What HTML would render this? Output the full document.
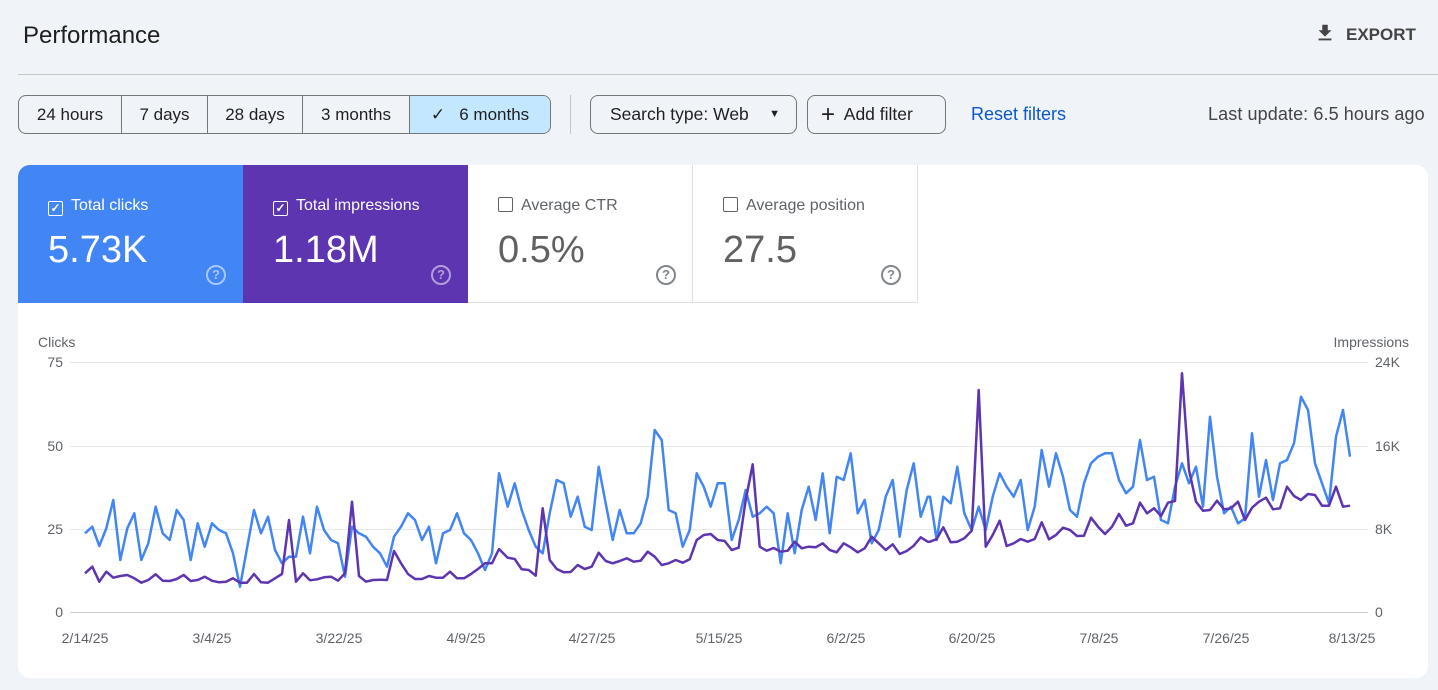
<!DOCTYPE html>
<html><head><meta charset="utf-8"><style>
*{box-sizing:border-box}
body{margin:0;width:1438px;height:690px;background:#f0f4f9;font-family:"Liberation Sans",sans-serif;position:relative;overflow:hidden;color:#1f1f1f}
.a{position:absolute}
.seg{position:absolute;top:95px;height:39px;border:1px solid #747775;border-radius:8px;display:flex;overflow:hidden;left:18px}
.seg div{border-right:1px solid #747775;font-size:17px;line-height:37px;text-align:center;color:#1f1f1f}
.btn{position:absolute;top:95px;height:39px;border:1px solid #747775;border-radius:8px;font-size:17.5px;line-height:37px;color:#1f1f1f}
.tile{position:absolute;top:165px;height:138px;width:225px}
.tile .l{position:absolute;left:30px;top:32px;font-size:16px}
.tile .v{position:absolute;left:30px;top:64px;font-size:38px}
.cb{display:inline-block;width:15px;height:15px;border:1.5px solid;border-radius:2px;vertical-align:-2px;margin-right:8px;position:relative;font-size:12px;line-height:12px;text-align:center;font-weight:bold}
.q{position:absolute;left:188px;top:100px;width:20px;height:20px;border:2px solid;border-radius:50%;font-size:13px;text-align:center;line-height:16px;font-weight:bold}
</style></head><body>
<div class="a" style="left:23px;top:22px;font-size:24px;color:#1f1f1f">Performance</div>
<div class="a" style="left:1314px;top:22px;font-size:17px;font-weight:bold;color:#444">
<svg width="22" height="22" viewBox="0 0 24 24" style="vertical-align:-4px;margin-right:10px"><path d="M5 20h14v-2H5zM19 9h-4V3H9v6H5l7 7z" fill="#444"/></svg>EXPORT</div>
<div class="a" style="left:18px;top:74px;width:1420px;height:1px;background:#c4c7c5"></div>
<div class="seg">
<div style="width:103px">24 hours</div><div style="width:86px">7 days</div><div style="width:95px">28 days</div><div style="width:107px">3 months</div>
<div style="width:140px;background:#c2e7ff;border-right:none">✓&nbsp;&nbsp; 6 months</div></div>
<div class="a" style="left:570px;top:95px;width:1px;height:39px;background:#c4c7c5"></div>
<div class="btn" style="left:590px;width:207px;padding-left:19px">Search type: Web <span style="position:absolute;right:16px;top:0;font-size:11px">▼</span></div>
<div class="btn" style="left:807px;width:139px;padding-left:13px"><span style="font-size:24px;vertical-align:-2px">+</span>&nbsp; Add filter</div>
<div class="a" style="left:971px;top:104px;font-size:18px;color:#0b57d0">Reset filters</div>
<div class="a" style="left:1208px;top:104px;font-size:18px;color:#444;letter-spacing:0.1px">Last update: 6.5 hours ago</div>
<div class="a" style="left:18px;top:165px;width:1410px;height:513px;background:#fff;border-radius:12px"></div>
<div class="tile" style="left:18px;background:#4285f4;color:#fff;border-top-left-radius:12px"><div class="l"><span class="cb" style="border-color:#fff">✓</span>Total clicks</div><div class="v">5.73K</div><div class="q" style="border-color:#a8c7fa;color:#a8c7fa">?</div></div>
<div class="tile" style="left:243px;background:#5e35b1;color:#fff"><div class="l"><span class="cb" style="border-color:#fff">✓</span>Total impressions</div><div class="v">1.18M</div><div class="q" style="border-color:#b39ddb;color:#b39ddb">?</div></div>
<div class="tile" style="left:468px;color:#5f6368;border-right:1px solid #e0e0e0;border-bottom:1px solid #e0e0e0"><div class="l"><span class="cb" style="border-color:#5f6368"></span>Average CTR</div><div class="v" style="color:#616161">0.5%</div><div class="q" style="border-color:#80868b;color:#80868b">?</div></div>
<div class="tile" style="left:693px;color:#5f6368;border-right:1px solid #e0e0e0;border-bottom:1px solid #e0e0e0"><div class="l"><span class="cb" style="border-color:#5f6368"></span>Average position</div><div class="v" style="color:#616161">27.5</div><div class="q" style="border-color:#80868b;color:#80868b">?</div></div>
<svg class="a" style="left:0;top:0" width="1438" height="690" font-family="Liberation Sans, sans-serif" font-size="14" fill="#5f6368">
<g stroke="#e8e8e8" stroke-width="1"><line x1="70" x2="1368" y1="362.5" y2="362.5"/><line x1="70" x2="1368" y1="446.5" y2="446.5"/><line x1="70" x2="1368" y1="529.5" y2="529.5"/><line x1="70" x2="1368" y1="612.5" y2="612.5" stroke="#ccc"/></g>
<text x="38" y="347">Clicks</text><text x="1409" y="347" text-anchor="end">Impressions</text>
<g text-anchor="end"><text x="63" y="367">75</text><text x="63" y="451">50</text><text x="63" y="534">25</text><text x="63" y="617">0</text></g>
<g><text x="1375" y="367">24K</text><text x="1375" y="451">16K</text><text x="1375" y="534">8K</text><text x="1375" y="617">0</text></g>
<g text-anchor="middle"><text x="85" y="643">2/14/25</text><text x="212" y="643">3/4/25</text><text x="339" y="643">3/22/25</text><text x="466" y="643">4/9/25</text><text x="592" y="643">4/27/25</text><text x="719" y="643">5/15/25</text><text x="846" y="643">6/2/25</text><text x="972" y="643">6/20/25</text><text x="1099" y="643">7/8/25</text><text x="1226" y="643">7/26/25</text><text x="1352" y="643">8/13/25</text></g>
<polyline id="pb" fill="none" stroke="#4285f4" stroke-width="2.5" stroke-linejoin="round"/>
<polyline id="pp" fill="none" stroke="#5e35b1" stroke-width="2.5" stroke-linejoin="round"/>
</svg>
<script>
function z(ox,oy,a,min,max){var r=[];for(var i=0;i<a.length;i+=2){var x=ox+a[i]/3;if(x>=min&&x<max)r.push(x.toFixed(1)+','+(oy+a[i+1]/3).toFixed(1));}return r;}
var b1=[75,400,97,380,118,438,139,385,160,300,181,480,202,385,223,340,244,480,265,430,287,320,308,400,329,420,350,330,371,360,392,480,413,370,434,440,456,370,477,390,498,400,519,460,540,560,561,445,582,330,603,400,624,350,645,450,666,490,687,470,708,470,729,350,750,460,771,320,792,390,813,420,834,430,855,530,876,380,897,400,918,410,939,440,960,460,981,500,1002,410,1023,380,1044,340,1065,360,1086,420,1107,380,1128,490,1149,400,1170,390,1191,340,1212,400,1233,420,1254,460,1275,510,1296,460,1317,220,1338,320];
var p1=[75,520,97,500,118,545,139,515,160,533,181,528,202,525,223,535,244,548,265,540,287,523,308,542,329,543,350,537,371,525,392,543,413,540,434,530,456,542,477,547,498,545,519,535,540,548,561,548,582,522,603,547,624,548,645,535,666,522,687,360,708,545,729,520,750,541,771,538,792,532,813,530,834,542,855,520,876,305,897,528,918,545,939,540,960,539,981,540,1002,453,1023,490,1044,522,1065,537,1086,537,1107,528,1128,533,1149,533,1170,515,1191,535,1212,535,1233,522,1254,507,1275,490,1296,490,1317,447,1338,475];
var b2=[0,460,20,510,40,460,62,220,83,320,104,250,125,330,146,390,167,440,188,460,209,340,230,240,251,250,272,350,293,290,314,380,335,390,356,200,377,310,398,420,419,330,440,400,461,400,482,370,503,290,524,90,545,120,566,330,587,340,608,440,629,390,650,220,671,260,692,320,713,250,734,250,755,420,776,360,797,270,818,350,839,340,860,320,881,340,902,490,923,340,944,460,965,330,986,260,1007,360,1028,220,1049,400,1070,230,1091,240,1112,160,1133,340,1154,300,1175,430,1196,390,1217,290,1238,240,1259,410,1280,270,1301,190,1322,350,1343,290];
var p2=[0,505,20,490,40,490,62,448,83,473,104,477,125,508,146,510,167,527,188,325,209,480,230,507,251,517,272,516,293,495,314,507,335,500,356,458,377,483,398,490,419,483,440,475,461,485,482,482,503,455,524,470,545,495,566,490,587,480,608,488,629,478,650,420,671,405,692,402,713,420,734,423,755,450,776,443,797,300,818,193,839,440,860,452,881,444,902,455,923,452,944,425,965,445,986,440,1007,442,1028,430,1049,450,1070,457,1091,430,1112,442,1133,457,1154,445,1175,410,1196,430,1217,450,1238,433,1259,462,1280,453,1301,437,1322,412,1343,425];
var b3=[30,410,50,540,70,410,92,430,112,320,133,460,155,510,176,440,197,510,218,410,239,340,260,380,281,410,302,360,323,510,344,440,365,270,387,380,408,280,429,350,450,450,471,470,492,370,513,310,534,290,555,280,576,280,597,360,618,400,639,380,660,240,681,360,702,350,723,480,744,490,765,380,786,310,807,370,828,320,849,440,870,170,891,350,912,460,933,440,954,490,975,475,996,220,1017,410,1038,300,1059,420,1080,310,1101,300,1122,250,1143,110,1164,150,1185,310,1206,370,1227,430,1248,230,1269,150,1290,290];
var p3=[30,545,50,537,70,502,92,547,112,545,133,535,155,512,176,90,197,560,218,525,239,482,260,558,281,550,302,537,323,545,344,537,365,487,387,538,408,525,429,503,450,510,471,528,492,527,513,473,534,500,555,522,576,500,597,462,618,497,639,490,660,428,681,460,702,445,723,468,744,428,765,423,786,40,807,330,828,425,849,452,870,450,891,422,912,448,933,445,954,425,975,480,996,443,1017,425,1038,413,1059,448,1080,445,1101,380,1122,408,1143,420,1164,402,1185,405,1206,437,1227,437,1248,380,1269,440,1290,437];
var B=z(60,400,b1,0,503).concat(z(480,400,b2,503,929),z(920,360,b3,929,2000));
var P=z(60,400,p1,0,503).concat(z(480,400,p2,503,929),z(920,360,p3,929,2000));
document.getElementById('pb').setAttribute('points',B.join(' '));
document.getElementById('pp').setAttribute('points',P.join(' '));
</script>
</body></html>
